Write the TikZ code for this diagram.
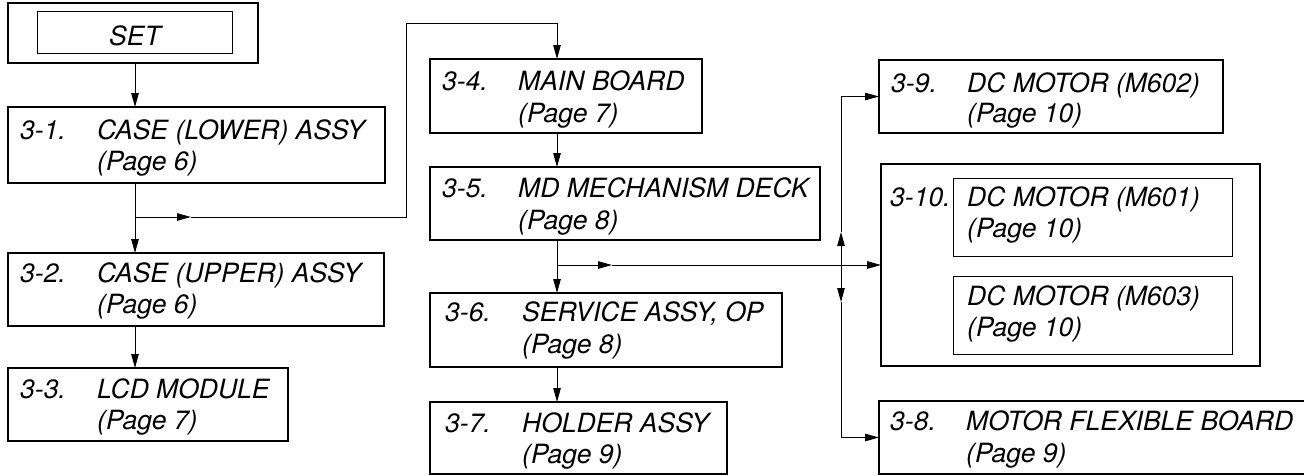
\documentclass[tikz,border=0pt]{standalone}
\usepackage{fontspec}
\setmainfont{TeX Gyre Heros}
\usetikzlibrary{arrows.meta,calc}
\tikzset{
 thickbox/.style={draw, line width=2.6pt, inner sep=0pt, outer sep=0pt, anchor=north west},
 thinbox/.style={draw, line width=1pt, inner sep=0pt, outer sep=0pt, anchor=north west},
 lbl/.style={inner sep=0pt, anchor=base west, font=\fontsize{26.5}{30}\selectfont\itshape},
 conn/.style={line width=1pt},
 arr/.style={conn, -{Triangle[length=14pt,width=7.5pt]}},
}
\newcommand\mkbox[6]{\node[#6, minimum width={(#4-#2)*1pt}, minimum height={(#5-#3)*1pt}] (#1) at (#2,#3) {};}
\newcommand\mktext[5]{\node[lbl] (#1) at ($(#2.north west)+(#3,#4)$) {#5};}
\begin{document}
\begin{tikzpicture}[x=1pt,y=-1pt]
\useasboundingbox (0,0) rectangle (1304,475);
% SET
\mkbox{set}{8}{3}{258}{63}{thickbox}
\mkbox{seti}{37}{11}{232}{53}{thinbox}
\node[lbl, anchor=base] (settxt) at (135,45) {SET};
% left column
\mkbox{b31}{8}{107}{385}{183}{thickbox}
\mktext{n31}{b31}{12}{32}{3-1.}
\mktext{t31a}{b31}{89}{32}{CASE (LOWER) ASSY}
\mktext{t31b}{b31}{89}{63}{(Page 6)}
\mkbox{b32}{8}{253}{384}{326}{thickbox}
\mktext{n32}{b32}{12}{29}{3-2.}
\mktext{t32a}{b32}{89}{29}{CASE (UPPER) ASSY}
\mktext{t32b}{b32}{89}{60}{(Page 6)}
\mkbox{b33}{8}{368}{288}{441}{thickbox}
\mktext{n33}{b33}{12}{30}{3-3.}
\mktext{t33a}{b33}{89}{30}{LCD MODULE}
\mktext{t33b}{b33}{89}{61}{(Page 7)}
% middle column
\mkbox{b34}{430}{59}{702}{133}{thickbox}
\mktext{n34}{b34}{12}{31}{3-4.}
\mktext{t34a}{b34}{88}{31}{MAIN BOARD}
\mktext{t34b}{b34}{88}{63}{(Page 7)}
\mkbox{b35}{430}{167}{820}{240}{thickbox}
\mktext{n35}{b35}{12}{30}{3-5.}
\mktext{t35a}{b35}{88}{30}{MD MECHANISM DECK}
\mktext{t35b}{b35}{88}{62}{(Page 8)}
\mkbox{b36}{430}{293}{782}{367}{thickbox}
\mktext{n36}{b36}{15}{28}{3-6.}
\mktext{t36a}{b36}{92}{28}{SERVICE ASSY, OP}
\mktext{t36b}{b36}{92}{60}{(Page 8)}
\mkbox{b37}{430}{402}{727}{474}{thickbox}
\mktext{n37}{b37}{15}{30}{3-7.}
\mktext{t37a}{b37}{92}{30}{HOLDER ASSY}
\mktext{t37b}{b37}{92}{61}{(Page 9)}
% right column
\mkbox{b39}{879}{60}{1223}{133}{thickbox}
\mktext{n39}{b39}{12}{32}{3-9.}
\mktext{t39a}{b39}{88}{32}{DC MOTOR (M602)}
\mktext{t39b}{b39}{88}{62}{(Page 10)}
\mkbox{b310}{881}{164}{1260}{366}{thickbox}
\mktext{n310}{b310}{9}{42}{3-10.}
\mkbox{m601}{953}{178}{1232}{256}{thinbox}
\mktext{t601a}{m601}{14}{28}{DC MOTOR (M601)}
\mktext{t601b}{m601}{14}{59}{(Page 10)}
\mkbox{m603}{953}{276}{1232}{354}{thinbox}
\mktext{t603a}{m603}{14}{29}{DC MOTOR (M603)}
\mktext{t603b}{m603}{14}{60}{(Page 10)}
\mkbox{b38}{879}{401}{1320}{474}{thickbox}
\mktext{n38}{b38}{11}{29}{3-8.}
\mktext{t38a}{b38}{87}{29}{MOTOR FLEXIBLE BOARD}
\mktext{t38b}{b38}{87}{61}{(Page 9)}
% connectors
\coordinate (sp) at (135,0);
\coordinate (sp2) at (557,0);
\draw[arr] (set.south -| sp) -- (b31.north -| sp);
\draw[arr] (b31.south -| sp) -- (b32.north -| sp);
\draw[arr] (b32.south -| sp) -- (b33.north -| sp);
\coordinate (j1) at (135,217);
\coordinate (m1) at (191,217);
\coordinate (k1) at (406,217);
\coordinate (k2) at (406,23);
\coordinate (k3) at (557,23);
\draw[arr] (j1) -- (m1);
\draw[arr] (m1) -- (k1) -- (k2) -- (k3) -- (b34.north -| k3);
\draw[arr] (b34.south -| sp2) -- (b35.north -| sp2);
\draw[arr] (b35.south -| sp2) -- (b36.north -| sp2);
\draw[arr] (b36.south -| sp2) -- (b37.north -| sp2);
\coordinate (j2) at (557,265);
\coordinate (m2) at (612,265);
\draw[arr] (j2) -- (m2);
\draw[arr] (m2) -- (b310.west |- j2);
\coordinate (j3) at (841,265);
\coordinate (u1) at (841,232);
\coordinate (d1) at (841,302);
\draw[arr] (j3) -- (u1);
\draw[arr] (u1) |- (b39.west);
\draw[arr] (j3) -- (d1);
\draw[arr] (d1) |- (b38.west);
\end{tikzpicture}
\end{document}
